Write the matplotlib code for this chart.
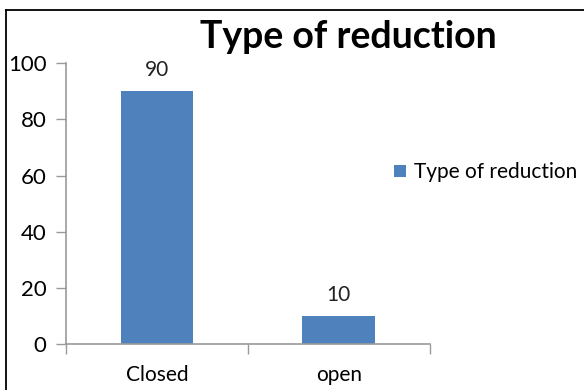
import matplotlib.pyplot as plt
from matplotlib.lines import Line2D

categories = ['Closed', 'open']
values = [90, 10]
series_name = 'Type of reduction'
y_ticks = [0, 20, 40, 60, 80, 100]

plt.rcParams['font.family'] = ['Lato', 'DejaVu Sans']

fig = plt.figure(figsize=(5.84, 3.90), dpi=100)
ax = fig.add_axes([0.113, 0.118, 0.623, 0.720])

x = range(len(categories))
bars = ax.bar(x, values, width=0.4, color='#4F81BD', label=series_name, zorder=2)

for b, v in zip(bars, values):
    ax.text(b.get_x() + b.get_width() / 2, v + 4, str(v), ha='center', va='bottom',
            fontsize=15, color='#222222')

ax.set_xlim(-0.5, len(categories) - 0.5)
ax.set_ylim(0, 100)
ax.set_yticks(y_ticks)
ax.tick_params(axis='y', length=7, width=1, color='#999999', labelsize=16, pad=7)
# category ticks sit between bars
ax.set_xticks([i - 0.5 for i in range(len(categories) + 1)], minor=False)
ax.set_xticklabels([''] * (len(categories) + 1))
ax.set_xticks(list(x), minor=True)
ax.set_xticklabels(categories, minor=True)
ax.tick_params(axis='x', which='major', length=7, width=1, color='#999999', direction='out')
ax.tick_params(axis='x', which='minor', length=0, labelsize=15, pad=15)

for s in ['top', 'right']:
    ax.spines[s].set_visible(False)
for s in ['left', 'bottom']:
    ax.spines[s].set_color('#999999')
    ax.spines[s].set_linewidth(1.2)

fig.text(0.596, 0.905, 'Type of reduction', ha='center', va='center',
         fontsize=27, fontweight='bold')

fig.legend(handles=[bars], labels=[series_name], loc='center left',
           bbox_to_anchor=(0.643, 0.558), frameon=False, fontsize=15,
           handlelength=0.55, handleheight=0.55, handletextpad=0.4)

# outer frame lines (cropped chart border)
fig.add_artist(Line2D([0.0103, 1.0], [0.974, 0.974], color='black', lw=1.3,
                      transform=fig.transFigure))
fig.add_artist(Line2D([0.0103, 0.0103], [0.0, 0.974], color='black', lw=1.3,
                      transform=fig.transFigure))

fig.savefig('out.png', dpi=100)
